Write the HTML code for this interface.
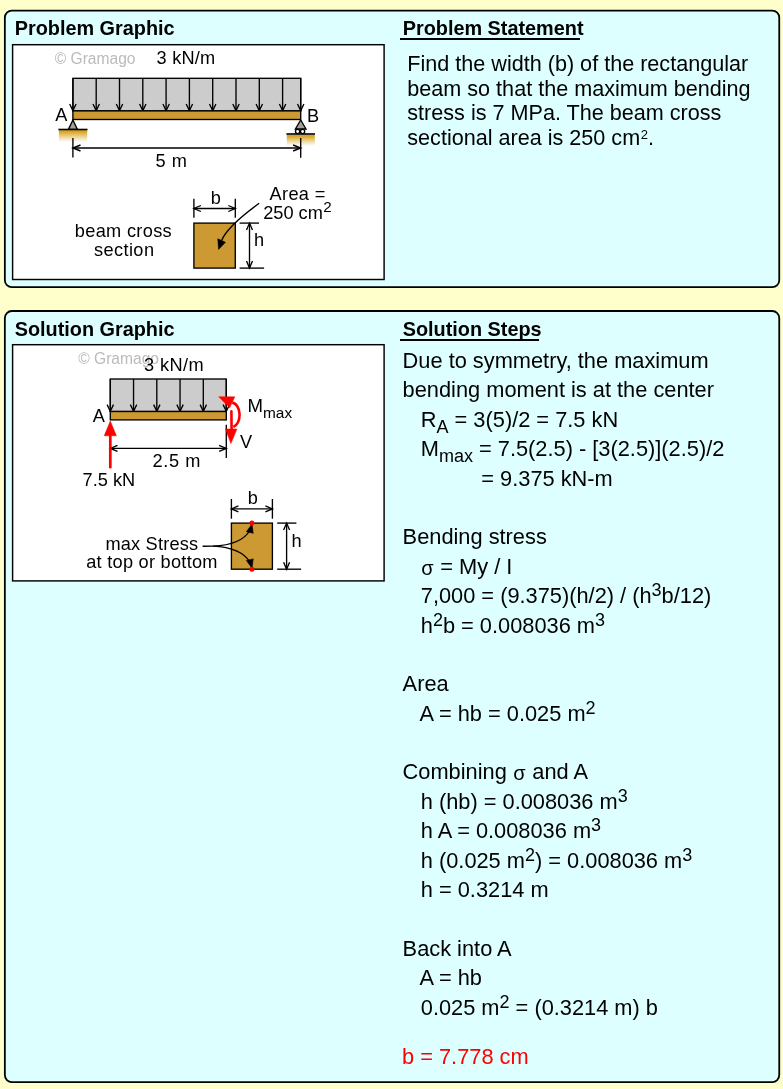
<!DOCTYPE html>
<html><head><meta charset="utf-8">
<style>
html,body{margin:0;padding:0;}
body{width:783px;height:1089px;overflow:hidden;will-change:transform;filter:blur(0.3px);background:#FFFFCC;font-family:"Liberation Sans",sans-serif;color:#000;position:relative;}
.h{position:absolute;font-weight:bold;font-size:19.85px;line-height:20px;white-space:pre;}
.ul{position:absolute;height:2px;background:#000;}
.t{position:absolute;font-size:21.6px;}
.t div,#ans{white-space:pre;}
.ps div{height:24.5px;line-height:24.5px;}
.ss div{height:29.4px;line-height:29.4px;}
.sp{font-size:18px;position:relative;top:-6.8px;line-height:0;}
.sb{font-size:18px;position:relative;top:6.2px;line-height:0;}
.sig{font-size:20px;margin:0 0.7px 0 0.4px;position:relative;top:0.8px;}
.psup{font-size:13px;position:relative;top:-6.2px;line-height:0;margin-left:0.7px;}
svg{position:absolute;left:0;top:0;}
</style></head>
<body>
<svg width="783" height="1089" viewBox="0 0 783 1089">
<rect x="4.85" y="10.6" width="774.4" height="276.6" rx="7" fill="#DDFFFF" stroke="#000" stroke-width="1.8"/>
<rect x="4.85" y="311" width="774.4" height="771.1" rx="7" fill="#DDFFFF" stroke="#000" stroke-width="1.8"/>
<rect x="12.6" y="44.7" width="371.5" height="234.8" fill="#fff" stroke="#000" stroke-width="1.45"/>
<rect x="12.6" y="344.7" width="371.5" height="236.2" fill="#fff" stroke="#000" stroke-width="1.45"/>
</svg>

<div class="h" id="h1" style="left:14.7px;top:18px;">Problem Graphic</div>
<div class="h" id="h2" style="left:402.7px;top:18px;">Problem Statement</div>
<div class="ul" style="left:400px;top:38px;width:180px;"></div>
<div class="h" id="h3" style="left:14.7px;top:319px;">Solution Graphic</div>
<div class="h" id="h4" style="left:402.7px;top:319px;">Solution Steps</div>
<div class="ul" style="left:400px;top:339px;width:139px;"></div>

<div class="t ps" id="ps" style="left:407.3px;top:52.4px;">
<div>Find the width (b) of the rectangular</div>
<div>beam so that the maximum bending</div>
<div>stress is 7 MPa. The beam cross</div>
<div>sectional area is 250 cm<span class="psup">2</span>.</div>
</div>

<div class="t ss" id="ss" style="left:402.6px;top:346px;font-size:21.8px;">
<div>Due to symmetry, the maximum</div>
<div>bending moment is at the center</div>
<div>   R<span class="sb">A</span> = 3(5)/2 = 7.5 kN</div>
<div>   M<span class="sb">max</span> = 7.5(2.5) - [3(2.5)](2.5)/2</div>
<div>             = 9.375 kN-m</div>
<div> </div>
<div>Bending stress</div>
<div>   <span class="sig">&sigma;</span> = My / I</div>
<div>   7,000 = (9.375)(h/2) / (h<span class="sp">3</span>b/12)</div>
<div>   h<span class="sp">2</span>b = 0.008036 m<span class="sp">3</span></div>
<div> </div>
<div>Area</div>
<div>   A = hb = 0.025 m<span class="sp">2</span></div>
<div> </div>
<div>Combining <span class="sig">&sigma;</span> and A</div>
<div>   h (hb) = 0.008036 m<span class="sp">3</span></div>
<div>   h A = 0.008036 m<span class="sp">3</span></div>
<div>   h (0.025 m<span class="sp">2</span>) = 0.008036 m<span class="sp">3</span></div>
<div>   h = 0.3214 m</div>
<div> </div>
<div>Back into A</div>
<div>   A = hb</div>
<div>   0.025 m<span class="sp">2</span> = (0.3214 m) b</div>
</div>
<div class="t" id="ans" style="left:402px;top:1042px;color:#FF0000;line-height:29.4px;font-size:21.8px;">b = 7.778 cm</div>

<svg id="g" width="783" height="1089" viewBox="0 0 783 1089" font-family="Liberation Sans, sans-serif">
<defs><linearGradient id="gr" x1="0" y1="0" x2="0" y2="1"><stop offset="0" stop-color="#D6A219"/><stop offset="0.15" stop-color="#D6A219" stop-opacity="0.95"/><stop offset="1" stop-color="#E0B040" stop-opacity="0"/></linearGradient></defs>
<text x="54.70" y="64.00" font-size="15.6" fill="#BBBBBB" >&#169; Gramago</text>
<text x="156.60" y="64.40" font-size="18.2" fill="#000" textLength="58.49" lengthAdjust="spacing" >3 kN/m</text>
<rect x="72.9" y="78.3" width="227.80" height="32.60" fill="#CCCCCC" stroke="#000" stroke-width="1.35"/>
<line x1="72.90" y1="78.30" x2="72.90" y2="110.90" stroke="#000" stroke-width="1.35" />
<polyline points="69.70,104.00 72.90,110.60 76.10,104.00" fill="none" stroke="#000" stroke-width="1.35" stroke-linejoin="miter" />
<line x1="96.20" y1="78.30" x2="96.20" y2="110.90" stroke="#000" stroke-width="1.35" />
<polyline points="93.00,104.00 96.20,110.60 99.40,104.00" fill="none" stroke="#000" stroke-width="1.35" stroke-linejoin="miter" />
<line x1="119.50" y1="78.30" x2="119.50" y2="110.90" stroke="#000" stroke-width="1.35" />
<polyline points="116.30,104.00 119.50,110.60 122.70,104.00" fill="none" stroke="#000" stroke-width="1.35" stroke-linejoin="miter" />
<line x1="142.80" y1="78.30" x2="142.80" y2="110.90" stroke="#000" stroke-width="1.35" />
<polyline points="139.60,104.00 142.80,110.60 146.00,104.00" fill="none" stroke="#000" stroke-width="1.35" stroke-linejoin="miter" />
<line x1="166.10" y1="78.30" x2="166.10" y2="110.90" stroke="#000" stroke-width="1.35" />
<polyline points="162.90,104.00 166.10,110.60 169.30,104.00" fill="none" stroke="#000" stroke-width="1.35" stroke-linejoin="miter" />
<line x1="189.40" y1="78.30" x2="189.40" y2="110.90" stroke="#000" stroke-width="1.35" />
<polyline points="186.20,104.00 189.40,110.60 192.60,104.00" fill="none" stroke="#000" stroke-width="1.35" stroke-linejoin="miter" />
<line x1="212.70" y1="78.30" x2="212.70" y2="110.90" stroke="#000" stroke-width="1.35" />
<polyline points="209.50,104.00 212.70,110.60 215.90,104.00" fill="none" stroke="#000" stroke-width="1.35" stroke-linejoin="miter" />
<line x1="236.00" y1="78.30" x2="236.00" y2="110.90" stroke="#000" stroke-width="1.35" />
<polyline points="232.80,104.00 236.00,110.60 239.20,104.00" fill="none" stroke="#000" stroke-width="1.35" stroke-linejoin="miter" />
<line x1="259.30" y1="78.30" x2="259.30" y2="110.90" stroke="#000" stroke-width="1.35" />
<polyline points="256.10,104.00 259.30,110.60 262.50,104.00" fill="none" stroke="#000" stroke-width="1.35" stroke-linejoin="miter" />
<line x1="282.60" y1="78.30" x2="282.60" y2="110.90" stroke="#000" stroke-width="1.35" />
<polyline points="279.40,104.00 282.60,110.60 285.80,104.00" fill="none" stroke="#000" stroke-width="1.35" stroke-linejoin="miter" />
<line x1="300.70" y1="78.30" x2="300.70" y2="110.90" stroke="#000" stroke-width="1.35" />
<polyline points="297.50,104.00 300.70,110.60 303.90,104.00" fill="none" stroke="#000" stroke-width="1.35" stroke-linejoin="miter" />
<rect x="72.9" y="110.9" width="227.80" height="8.6" fill="#CC9933" stroke="#000" stroke-width="1.35"/>
<text x="55.20" y="120.70" font-size="18.2" fill="#000" >A</text>
<text x="307.00" y="121.70" font-size="18.2" fill="#000" >B</text>
<rect x="58.9" y="130" width="28.3" height="12.2" fill="url(#gr)"/>
<polygon points="72.90,120.00 68.40,129.40 77.40,129.40" fill="#A0A0A0" stroke="#000" stroke-width="1.35" stroke-linejoin="miter" />
<line x1="58.40" y1="129.50" x2="87.50" y2="129.50" stroke="#000" stroke-width="1.6" />
<rect x="286.8" y="134.6" width="28" height="11.4" fill="url(#gr)"/>
<polygon points="300.70,120.00 295.40,129.00 306.00,129.00" fill="#A0A0A0" stroke="#000" stroke-width="1.35" stroke-linejoin="miter" />
<circle cx="297.6" cy="131.5" r="2.1" fill="#fff" stroke="#000" stroke-width="1.35"/>
<circle cx="302.6" cy="131.5" r="2.1" fill="#fff" stroke="#000" stroke-width="1.35"/>
<line x1="286.40" y1="134.00" x2="315.00" y2="134.00" stroke="#000" stroke-width="1.6" />
<line x1="72.90" y1="138.00" x2="72.90" y2="157.60" stroke="#000" stroke-width="1.35" />
<line x1="300.70" y1="138.00" x2="300.70" y2="157.80" stroke="#000" stroke-width="1.35" />
<line x1="72.90" y1="148.00" x2="300.70" y2="148.00" stroke="#000" stroke-width="1.35" />
<polyline points="80.50,145.00 72.90,148.00 80.50,151.00" fill="none" stroke="#000" stroke-width="1.35" stroke-linejoin="miter" />
<polyline points="293.10,151.00 300.70,148.00 293.10,145.00" fill="none" stroke="#000" stroke-width="1.35" stroke-linejoin="miter" />
<text x="155.60" y="167.30" font-size="18.2" fill="#000" textLength="31.21" lengthAdjust="spacing" >5 m</text>
<rect x="193.9" y="223.1" width="41.4" height="45.0" fill="#CC9933" stroke="#000" stroke-width="1.35"/>
<line x1="193.90" y1="198.70" x2="193.90" y2="217.80" stroke="#000" stroke-width="1.35" />
<line x1="235.30" y1="198.70" x2="235.30" y2="217.80" stroke="#000" stroke-width="1.35" />
<line x1="193.90" y1="208.50" x2="235.30" y2="208.50" stroke="#000" stroke-width="1.35" />
<polyline points="200.90,205.50 193.90,208.50 200.90,211.50" fill="none" stroke="#000" stroke-width="1.35" stroke-linejoin="miter" />
<polyline points="228.30,211.50 235.30,208.50 228.30,205.50" fill="none" stroke="#000" stroke-width="1.35" stroke-linejoin="miter" />
<text x="210.80" y="203.80" font-size="18.2" fill="#000" >b</text>
<line x1="239.60" y1="223.10" x2="259.00" y2="223.10" stroke="#000" stroke-width="1.35" />
<line x1="239.60" y1="268.10" x2="264.10" y2="268.10" stroke="#000" stroke-width="1.35" />
<line x1="249.50" y1="223.10" x2="249.50" y2="268.10" stroke="#000" stroke-width="1.35" />
<polyline points="252.50,230.10 249.50,223.10 246.50,230.10" fill="none" stroke="#000" stroke-width="1.35" stroke-linejoin="miter" />
<polyline points="246.50,261.10 249.50,268.10 252.50,261.10" fill="none" stroke="#000" stroke-width="1.35" stroke-linejoin="miter" />
<text x="254.00" y="246.30" font-size="18.2" fill="#000" >h</text>
<text x="269.60" y="199.60" font-size="18.2" fill="#000" textLength="55.68" lengthAdjust="spacing" >Area =</text>
<text x="263.20" y="218.60" font-size="18.2" fill="#000" >250 cm<tspan font-size="15.2" dy="-6.4" dx="0.3">2</tspan></text>
<path d="M259.2,203.2 C246,212.8 226.5,228 221.6,240.5" fill="none" stroke="#000" stroke-width="1.35"/>
<polygon points="218.60,249.40 217.80,238.80 225.40,242.30" fill="#000" stroke="#000" stroke-width="0.6" stroke-linejoin="miter" />
<text x="74.80" y="237.20" font-size="18.2" fill="#000" textLength="96.88" lengthAdjust="spacing" >beam cross</text>
<text x="93.90" y="255.60" font-size="18.2" fill="#000" textLength="60.11" lengthAdjust="spacing" >section</text>
<text x="78.20" y="363.90" font-size="15.6" fill="#BBBBBB" >&#169; Gramago</text>
<text x="143.90" y="370.50" font-size="18.2" fill="#000" textLength="59.79" lengthAdjust="spacing" >3 kN/m</text>
<rect x="110.3" y="379.0" width="116.00" height="32.50" fill="#CCCCCC" stroke="#000" stroke-width="1.35"/>
<line x1="110.30" y1="379.00" x2="110.30" y2="411.50" stroke="#000" stroke-width="1.35" />
<polyline points="107.10,404.60 110.30,411.20 113.50,404.60" fill="none" stroke="#000" stroke-width="1.35" stroke-linejoin="miter" />
<line x1="133.55" y1="379.00" x2="133.55" y2="411.50" stroke="#000" stroke-width="1.35" />
<polyline points="130.35,404.60 133.55,411.20 136.75,404.60" fill="none" stroke="#000" stroke-width="1.35" stroke-linejoin="miter" />
<line x1="156.80" y1="379.00" x2="156.80" y2="411.50" stroke="#000" stroke-width="1.35" />
<polyline points="153.60,404.60 156.80,411.20 160.00,404.60" fill="none" stroke="#000" stroke-width="1.35" stroke-linejoin="miter" />
<line x1="180.05" y1="379.00" x2="180.05" y2="411.50" stroke="#000" stroke-width="1.35" />
<polyline points="176.85,404.60 180.05,411.20 183.25,404.60" fill="none" stroke="#000" stroke-width="1.35" stroke-linejoin="miter" />
<line x1="203.30" y1="379.00" x2="203.30" y2="411.50" stroke="#000" stroke-width="1.35" />
<polyline points="200.10,404.60 203.30,411.20 206.50,404.60" fill="none" stroke="#000" stroke-width="1.35" stroke-linejoin="miter" />
<line x1="226.30" y1="379.00" x2="226.30" y2="411.50" stroke="#000" stroke-width="1.35" />
<polyline points="223.10,404.60 226.30,411.20 229.50,404.60" fill="none" stroke="#000" stroke-width="1.35" stroke-linejoin="miter" />
<rect x="110.3" y="411.5" width="116.00" height="8.4" fill="#CC9933" stroke="#000" stroke-width="1.35"/>
<text x="92.80" y="421.60" font-size="18.2" fill="#000" >A</text>
<line x1="226.30" y1="424.80" x2="226.30" y2="457.90" stroke="#000" stroke-width="1.35" />
<line x1="110.30" y1="448.40" x2="226.30" y2="448.40" stroke="#000" stroke-width="1.35" />
<polyline points="117.50,445.40 110.30,448.40 117.50,451.40" fill="none" stroke="#000" stroke-width="1.35" stroke-linejoin="miter" />
<polyline points="219.10,451.40 226.30,448.40 219.10,445.40" fill="none" stroke="#000" stroke-width="1.35" stroke-linejoin="miter" />
<text x="152.60" y="467.30" font-size="18.2" fill="#000" textLength="47.77" lengthAdjust="spacing" >2.5 m</text>
<text x="82.60" y="486.40" font-size="18.2" fill="#000" >7.5 kN</text>
<line x1="110.3" y1="434" x2="110.3" y2="467.2" stroke="#FF0000" stroke-width="2.7" stroke-linecap="round"/>
<polygon points="110.30,421.00 104.20,435.80 116.40,435.80" fill="#FF0000" stroke="#FF0000" stroke-width="0.5" stroke-linejoin="miter" />
<path d="M233.3,427 A8.2,12.4 0 0 0 232.2,402.6" fill="none" stroke="#FF0000" stroke-width="2.6"/>
<polygon points="218.70,396.80 234.80,396.80 229.70,407.80" fill="#FF0000" stroke="#FF0000" stroke-width="0.5" stroke-linejoin="miter" />
<line x1="231.4" y1="411.2" x2="231.6" y2="430" stroke="#FF0000" stroke-width="2.6" stroke-linecap="round"/>
<polygon points="225.40,429.00 236.90,429.00 230.90,443.60" fill="#FF0000" stroke="#FF0000" stroke-width="0.5" stroke-linejoin="miter" />
<text x="247.60" y="411.90" font-size="18.6" fill="#000" >M</text>
<text x="263.00" y="417.90" font-size="15.4" fill="#000" >max</text>
<text x="240.00" y="448.40" font-size="18.2" fill="#000" >V</text>
<rect x="231.4" y="523.1" width="41.0" height="46.1" fill="#CC9933" stroke="#000" stroke-width="1.35"/>
<line x1="231.40" y1="499.00" x2="231.40" y2="518.70" stroke="#000" stroke-width="1.35" />
<line x1="272.40" y1="499.00" x2="272.40" y2="518.70" stroke="#000" stroke-width="1.35" />
<line x1="231.40" y1="508.90" x2="272.40" y2="508.90" stroke="#000" stroke-width="1.35" />
<polyline points="238.40,505.90 231.40,508.90 238.40,511.90" fill="none" stroke="#000" stroke-width="1.35" stroke-linejoin="miter" />
<polyline points="265.40,511.90 272.40,508.90 265.40,505.90" fill="none" stroke="#000" stroke-width="1.35" stroke-linejoin="miter" />
<text x="247.80" y="504.10" font-size="18.2" fill="#000" >b</text>
<line x1="277.20" y1="523.10" x2="296.40" y2="523.10" stroke="#000" stroke-width="1.35" />
<line x1="277.20" y1="569.20" x2="301.10" y2="569.20" stroke="#000" stroke-width="1.35" />
<line x1="286.60" y1="523.10" x2="286.60" y2="569.20" stroke="#000" stroke-width="1.35" />
<polyline points="289.60,530.10 286.60,523.10 283.60,530.10" fill="none" stroke="#000" stroke-width="1.35" stroke-linejoin="miter" />
<polyline points="283.60,562.20 286.60,569.20 289.60,562.20" fill="none" stroke="#000" stroke-width="1.35" stroke-linejoin="miter" />
<text x="291.40" y="546.60" font-size="18.2" fill="#000" >h</text>
<path d="M202.6,546.2 L213,546.1 C226,545.6 243,542 249.8,530.5" fill="none" stroke="#000" stroke-width="1.35"/>
<path d="M213,546.1 C226,546.8 243,550.5 249.8,562" fill="none" stroke="#000" stroke-width="1.35"/>
<polygon points="252.00,523.90 246.40,531.70 253.20,533.30" fill="#000" stroke="#000" stroke-width="0.6" stroke-linejoin="miter" />
<polygon points="252.00,568.30 246.40,560.50 253.20,558.90" fill="#000" stroke="#000" stroke-width="0.6" stroke-linejoin="miter" />
<circle cx="251.9" cy="523.0" r="2.5" fill="#FF0000"/>
<circle cx="251.9" cy="569.3" r="2.5" fill="#FF0000"/>
<text x="105.40" y="549.50" font-size="18.2" fill="#000" textLength="92.74" lengthAdjust="spacing" >max Stress</text>
<text x="86.20" y="568.10" font-size="18.2" fill="#000" textLength="131.31" lengthAdjust="spacing" >at top or bottom</text>
</svg>
</body></html>
